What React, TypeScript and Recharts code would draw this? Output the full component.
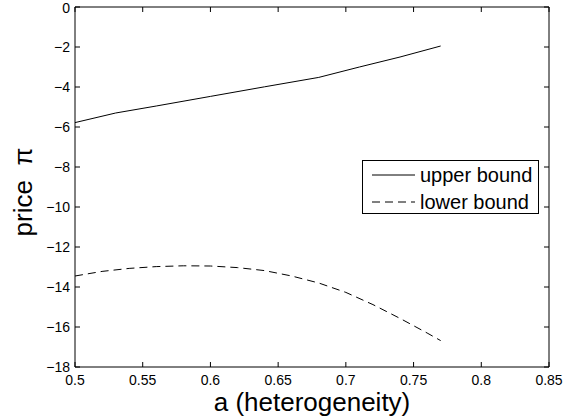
import React from 'react';
import { LineChart, Line, XAxis, YAxis, Legend, Label } from 'recharts';

const upperX = [0.5, 0.53, 0.56, 0.6, 0.64, 0.68, 0.71, 0.74, 0.77];
const upperY = [-5.78, -5.3, -4.95, -4.47, -3.99, -3.52, -3.0, -2.5, -1.95];

const lowerX = [0.5, 0.52, 0.54, 0.56, 0.58, 0.6, 0.62, 0.64, 0.66, 0.68, 0.7, 0.72, 0.74, 0.76, 0.77];
const lowerY = [-13.45, -13.22, -13.07, -12.98, -12.94, -12.95, -13.03, -13.18, -13.45, -13.8, -14.27, -14.88, -15.57, -16.3, -16.68];

const xTicks = [0.5, 0.55, 0.6, 0.65, 0.7, 0.75, 0.8, 0.85];
const yTicks = [-18, -16, -14, -12, -10, -8, -6, -4, -2, 0];

const seriesNames = ['upper bound', 'lower bound'];
const seriesDash = ['', '8 5'];

const upperData = upperX.map((x, i) => ({ x, y: upperY[i] }));
const lowerData = lowerX.map((x, i) => ({ x, y: lowerY[i] }));

const FONT = '"Liberation Sans", Arial, Helvetica, sans-serif';
const fmt = (v: number) => String(v).replace('-', '\u2212');

const renderLegend = () => (
  <div
    style={{
      width: 177,
      height: 54,
      border: '1px solid #000',
      background: '#fff',
      boxSizing: 'border-box',
      fontFamily: FONT,
      fontSize: 20,
      position: 'relative',
      color: '#000',
    }}
  >
    {seriesNames.map((name, i) => (
      <div
        key={name}
        style={{
          position: 'absolute',
          left: 0,
          top: 2 + i * 27,
          height: 24,
          display: 'flex',
          alignItems: 'center',
          whiteSpace: 'nowrap',
        }}
      >
        <svg width={53} height={24} style={{ display: 'block' }}>
          <line x1={9} x2={52} y1={12} y2={12} stroke="#000" strokeWidth={1} strokeDasharray={seriesDash[i] || undefined} />
        </svg>
        <span style={{ marginLeft: 4, lineHeight: '24px' }}>{name}</span>
      </div>
    ))}
  </div>
);

const YLabel = (props: any) => {
  const vb = props.viewBox || { x: 0, y: 7, width: 75, height: 360 };
  const cx = vb.x + 32;
  const cy = vb.y + vb.height / 2 + 5;
  return (
    <text
      x={cx}
      y={cy}
      transform={`rotate(-90 ${cx} ${cy})`}
      textAnchor="middle"
      fontFamily={FONT}
      fontSize={26}
      fill="#000"
    >
      {'price\u00a0\u00a0\u03c0'}
    </text>
  );
};

export default function App() {
  const tickStyle = { fill: '#000', fontSize: 14, fontFamily: FONT };
  return (
    <div style={{ position: 'absolute', left: 0, top: 0, width: 572, height: 419, background: '#fff' }}>
      <LineChart width={572} height={419} margin={{ top: 6, right: 22, bottom: 0, left: 0 }}>
        <XAxis
          xAxisId="bottom"
          dataKey="x"
          type="number"
          domain={[0.5, 0.85]}
          ticks={xTicks}
          allowDataOverflow
          height={52}
          stroke="#000"
          tickSize={-5}
          tickMargin={13}
          tick={tickStyle}
          tickFormatter={fmt}
        >
          <Label
            value="a (heterogeneity)"
            position="insideBottom"
            offset={8}
            style={{ fontSize: 26, fontFamily: FONT, fill: '#000' }}
          />
        </XAxis>
        <XAxis
          xAxisId="top"
          orientation="top"
          dataKey="x"
          type="number"
          domain={[0.5, 0.85]}
          ticks={xTicks}
          allowDataOverflow
          height={1}
          stroke="#000"
          tickSize={-5}
          tickFormatter={() => ''}
          tick={{ fontSize: 1 }}
        />
        <YAxis
          yAxisId="left"
          type="number"
          domain={[-18, 0]}
          ticks={yTicks}
          allowDataOverflow
          width={75}
          stroke="#000"
          tickSize={-5}
          tickMargin={10}
          tick={tickStyle}
          tickFormatter={fmt}
        >
          <Label content={<YLabel />} />
        </YAxis>
        <YAxis
          yAxisId="right"
          orientation="right"
          type="number"
          domain={[-18, 0]}
          ticks={yTicks}
          allowDataOverflow
          width={1}
          stroke="#000"
          tickSize={-5}
          tickFormatter={() => ''}
          tick={{ fontSize: 1 }}
        />
        <Legend
          layout="horizontal"
          verticalAlign="middle"
          align="center"
          content={renderLegend}
          wrapperStyle={{ left: 362, top: 160, width: 177, height: 54, margin: 0, padding: 0 }}
        />
        <Line
          xAxisId="bottom"
          yAxisId="left"
          data={upperData}
          dataKey="y"
          name={seriesNames[0]}
          type="linear"
          stroke="#000"
          strokeWidth={1}
          dot={false}
          activeDot={false}
          isAnimationActive={false}
        />
        <Line
          xAxisId="bottom"
          yAxisId="left"
          data={lowerData}
          dataKey="y"
          name={seriesNames[1]}
          type="linear"
          stroke="#000"
          strokeWidth={1}
          strokeDasharray={seriesDash[1]}
          dot={false}
          activeDot={false}
          isAnimationActive={false}
        />
      </LineChart>
    </div>
  );
}
